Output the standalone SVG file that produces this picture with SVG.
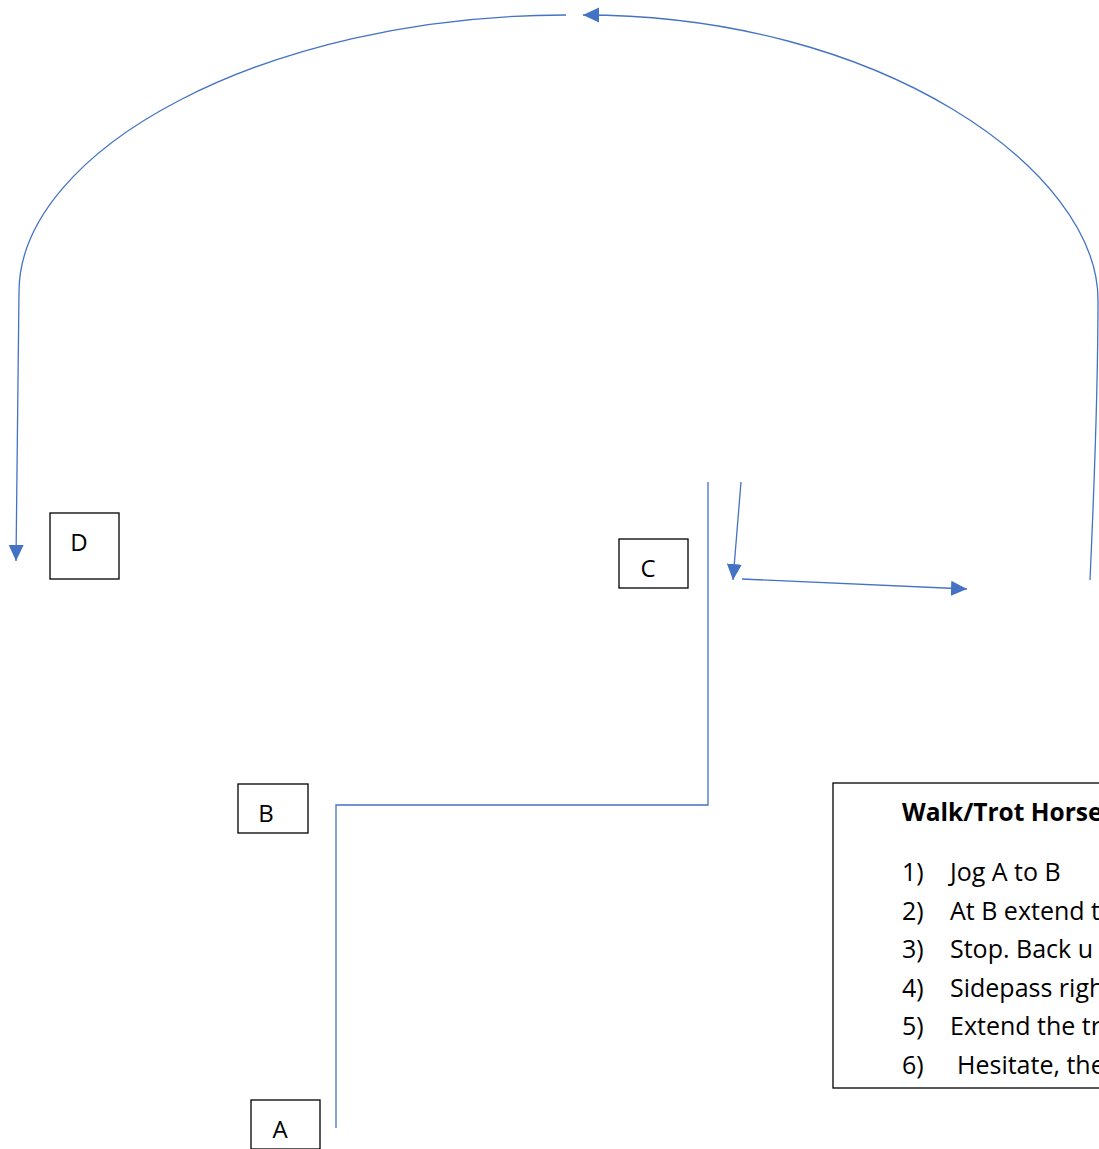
<svg xmlns="http://www.w3.org/2000/svg" width="1099" height="1149" viewBox="0 0 1099 1149">
<style>
.box{fill:#fff;stroke:#000;stroke-width:1.3}
.lbl{font-family:"Open Sans","Liberation Sans",sans-serif;font-size:24px;fill:#000;text-anchor:middle}
.conn{fill:none;stroke:#4472C4;stroke-width:1.3}
.txt{font-family:"Open Sans","Liberation Sans",sans-serif;font-size:25px;fill:#000}
.ttl{font-weight:bold;font-size:24.5px}
</style>
<defs>
<marker id="ah" markerUnits="userSpaceOnUse" markerWidth="17" markerHeight="16" refX="16" refY="7.5" orient="auto" viewBox="0 0 17 16">
<path d="M0,0 L16,7.5 L0,15 z" fill="#4472C4"/>
</marker>
</defs>
<rect width="1099" height="1149" fill="#fff"/>
<g id="connectors">
<path class="conn" d="M566,15 C265,15 19,150 19,292 L16,561" marker-end="url(#ah)"/>
<path class="conn" d="M1090,580 C1095,470 1098,360 1098,300 C1098,170 880,15 583,15" marker-end="url(#ah)"/>
<path class="conn" d="M708,482 L708,805 L336,805 L336,1128"/>
<path class="conn" d="M741,482 L733,580" marker-end="url(#ah)"/>
<path class="conn" d="M742,579 L967,589" marker-end="url(#ah)"/>
</g>
<g id="node-D">
<rect class="box" x="50" y="513" width="69" height="66"/>
<text class="lbl" x="79" y="551">D</text>
</g>
<g id="node-C">
<rect class="box" x="619" y="539" width="69" height="49"/>
<text class="lbl" x="648" y="577">C</text>
</g>
<g id="node-B">
<rect class="box" x="238" y="784" width="70" height="49"/>
<text class="lbl" x="266" y="822">B</text>
</g>
<g id="node-A">
<rect class="box" x="251" y="1100" width="69" height="49"/>
<text class="lbl" x="280" y="1138">A</text>
</g>
<g id="instructions">
<rect class="box" x="833" y="783" width="300" height="305"/>
<text class="txt ttl" x="902" y="821">Walk/Trot Horse</text>
<text class="txt" x="902" y="881">1)</text><text class="txt" x="950" y="881">Jog A to B</text>
<text class="txt" x="902" y="919.6">2)</text><text class="txt" x="950" y="919.6">At B extend t</text>
<text class="txt" x="902" y="958.2">3)</text><text class="txt" x="950" y="958.2">Stop. Back u</text>
<text class="txt" x="902" y="996.8">4)</text><text class="txt" x="950" y="996.8">Sidepass righ</text>
<text class="txt" x="902" y="1035.4">5)</text><text class="txt" x="950" y="1035.4">Extend the tr</text>
<text class="txt" x="902" y="1074">6)</text><text class="txt" x="957" y="1074">Hesitate, the</text>
</g>
</svg>
